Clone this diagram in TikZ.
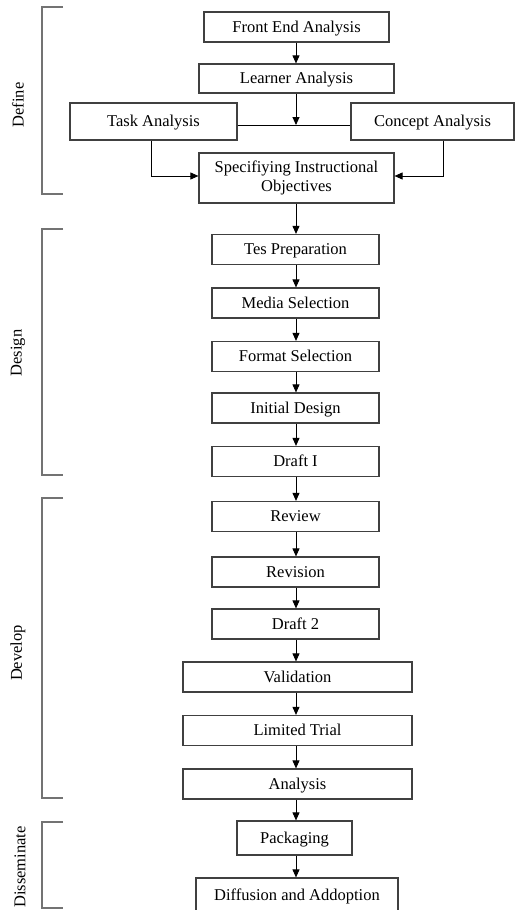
\documentclass[tikz,border=0pt]{standalone}
\usepackage{fontspec}
\setmainfont{Liberation Serif}
\usetikzlibrary{arrows.meta}

\begin{document}
\begin{tikzpicture}[x=1pt,y=-1pt,
    font=\fontsize{16.5}{19}\selectfont,
    box/.style={draw=black!75, line width=1.2pt, minimum height=30pt, inner sep=0pt,
        text height=11pt, text depth=1pt, align=center},
    flow/.style={-{Triangle[length=8pt,width=7pt]}, line width=0.9pt},
    phase/.style={draw=black!55, line width=1.6pt},
    phaselabel/.style={rotate=90}]
    \useasboundingbox (0,0) rectangle (515,910);
    % define
    \node[box, minimum width=185pt] (front) at (296.5,27) {Front End Analysis};
    \node[box, minimum width=195pt, minimum height=29pt] (learner) at (296.5,78.5) {Learner Analysis};
    \node[box, minimum width=167pt, minimum height=37pt] (task) at (153.5,121.5) {Task Analysis};
    \node[box, minimum width=163pt, minimum height=37pt] (concept) at (432.5,121.5) {Concept Analysis};
    \node[box, minimum width=195pt, minimum height=50pt, text height=, text depth=] (spec) at (296.5,178) {Specifiying Instructional\\Objectives};
    % design
    \node[box, minimum width=167pt] (tes) at (295.5,249.5) {Tes Preparation};
    \node[box, minimum width=167pt] (media) at (295.5,303) {Media Selection};
    \node[box, minimum width=167pt] (format) at (295.5,356.5) {Format Selection};
    \node[box, minimum width=167pt] (initial) at (295.5,408) {Initial Design};
    \node[box, minimum width=167pt] (draft1) at (295.5,461.5) {Draft I};
    % develop
    \node[box, minimum width=167pt] (review) at (295.5,516.5) {Review};
    \node[box, minimum width=167pt] (revision) at (295.5,572) {Revision};
    \node[box, minimum width=167pt] (draft2) at (295.5,624) {Draft 2};
    \node[box, minimum width=229pt] (valid) at (297.5,677) {Validation};
    \node[box, minimum width=229pt] (trial) at (297.5,730.5) {Limited Trial};
    \node[box, minimum width=229pt] (analysis) at (297.5,784) {Analysis};
    % disseminate
    \node[box, minimum width=115pt, minimum height=34pt] (pack) at (294.5,838) {Packaging};
    \node[box, minimum width=202pt, minimum height=34pt] (diff) at (297,895) {Diffusion and Addoption};

    \coordinate (junction) at (296,125);
    \draw[flow] (front.south -| junction) -- (learner.north -| junction);
    \draw[flow] (learner.south -| junction) -- (junction);
    \draw[line width=0.9pt] (task.east |- junction) -- (concept.west |- junction);
    \draw[flow] ([xshift=-2.5pt]task.south) |- ([yshift=2pt]spec.west);
    \draw[flow] ([xshift=10.5pt]concept.south) |- ([yshift=2pt]spec.east);
    \foreach \a/\b in {spec/tes, tes/media, media/format, format/initial, initial/draft1,
        draft1/review, review/revision, revision/draft2, draft2/valid, valid/trial,
        trial/analysis, analysis/pack, pack/diff}
        \draw[flow] (\a.south -| junction) -- (\b.north -| junction);

    % phase brackets
    \draw[phase] (63,7) -- (42,7) -- (42,194) -- (63,194);
    \draw[phase] (63,229) -- (42,229) -- (42,475) -- (63,475);
    \draw[phase] (63,498) -- (42,498) -- (42,798) -- (63,798);
    \draw[phase] (63,822) -- (42,822) -- (42,908) -- (63,908);
    \node[phaselabel] (define) at (18,105) {Define};
    \node[phaselabel] (design) at (18,353) {Design};
    \node[phaselabel] (develop) at (18,653) {Develop};
    \node[phaselabel] (dissem) at (20,867) {Disseminate};
\end{tikzpicture}
\end{document}
